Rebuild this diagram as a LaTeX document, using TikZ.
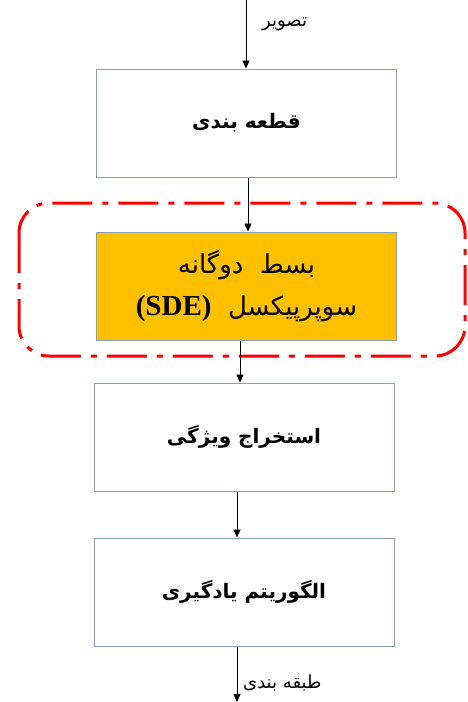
\documentclass[tikz,border=0pt]{standalone}
\usepackage{fontspec}
\setmainfont{Liberation Serif}
\newfontfamily\arabicfont[Script=Arabic]{DejaVu Sans}
\TeXXeTstate=1
\usetikzlibrary{arrows.meta}
\definecolor{boxline}{RGB}{135,160,190}
\definecolor{sdeorange}{RGB}{255,192,0}
\tikzset{
  stepbox/.style={draw=boxline, line width=1pt, minimum width=300pt, minimum height=108pt, inner sep=0pt, align=center, font=\arabicfont\bfseries\fontsize{20}{24}\selectfont},
  arr/.style={draw=black, line width=0.8pt, -{Triangle[width=7pt,length=8pt]}},
  lbl/.style={font=\arabicfont\fontsize{18}{22}\selectfont, inner sep=0pt},
  redframe/.style={draw=red, line width=3pt, rounded corners=30pt, dash pattern=on 40pt off 10pt on 6pt off 10pt}
}
\begin{document}
\begin{tikzpicture}[x=1pt,y=-1pt]
\useasboundingbox (0,0) rectangle (467,702);
\draw[redframe] (19,203) rectangle (465,356);
\node[stepbox, fill=sdeorange, font=\arabicfont\fontsize{26}{42}\selectfont] (b2) at (246.5,286) {\beginR بسط\ \ دوگانه\endR\\ \beginR سوپرپیکسل\ \ \beginL{\rmfamily\bfseries\fontsize{29}{42}\selectfont(SDE)}\endL\endR};
\node[stepbox] (b1) at (246.5,123) {\beginR قطعه بندی\endR};
\node[stepbox] (b3) at (244,437) {\beginR استخراج ویژگی\endR};
\node[stepbox] (b4) at (244,592) {\beginR الگوریتم یادگیری\endR};
\coordinate (in) at (246,0);
\coordinate (out) at (237,702);
\coordinate (c12) at (248,0);
\coordinate (c23) at (240,0);
\coordinate (c34) at (237,0);
\draw[arr] (in) -- (in |- b1.north);
\draw[arr] (b1.south -| c12) -- (b2.north -| c12);
\draw[arr] (b2.south -| c23) -- (b3.north -| c23);
\draw[arr] (b3.south -| c34) -- (b4.north -| c34);
\draw[arr] (b4.south -| out) -- (out);
\node[lbl, anchor=west] (l1) at (262,24) {\beginR تصویر\endR};
\node[lbl, anchor=west] (l2) at (243,683) {\beginR طبقه بندی\endR};
\end{tikzpicture}
\end{document}
